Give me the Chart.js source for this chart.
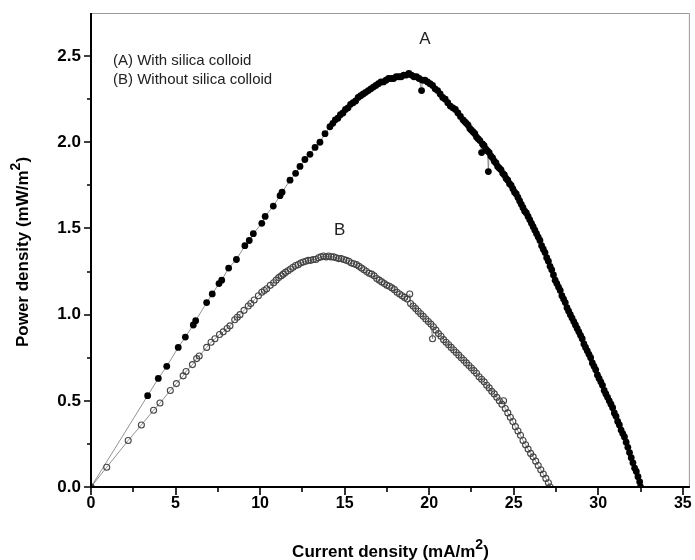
<!DOCTYPE html>
<html>
<head>
<meta charset="utf-8">
<script src="https://cdn.jsdelivr.net/npm/chart.js@4.4.1/dist/chart.umd.min.js"></script>
<style>
  html, body { margin: 0; padding: 0; background: #fff; }
  #wrap { width: 695px; height: 560px; }
</style>
</head>
<body>
<div id="wrap"><canvas id="chart" width="695" height="560"></canvas></div>
<script>
// Power density vs current density, with / without silica colloid

// (A) With silica colloid
const A_X = [0, 3.35, 3.98, 4.48, 5.16, 5.58, 6.05, 6.19, 6.84, 7.17, 7.57, 7.73, 8.14, 8.6, 9.1, 9.36, 9.6,
  10.1, 10.3, 10.78, 11.18, 11.3, 11.77, 12.1, 12.36, 12.65, 12.95, 13.25, 13.54, 13.84, 14.13, 14.3, 14.45,
  14.6, 14.75, 14.9, 15.05, 15.2, 15.35, 15.5, 15.65, 15.8, 15.95, 16.1, 16.25, 16.4, 16.55, 16.7, 16.85,
  17.0, 17.15, 17.3, 17.45, 17.6, 17.75, 17.9, 18.05, 18.2, 18.35, 18.5, 18.65, 18.8, 18.95, 19.1, 19.25,
  19.4, 19.55, 19.6, 19.75, 19.9, 20.05, 20.2, 20.35, 20.5, 20.65, 20.8, 20.95, 21.1, 21.25, 21.4, 21.55,
  21.7, 21.85, 22.0, 22.1, 22.2, 22.3, 22.4, 22.5, 22.6, 22.7, 22.8, 22.9, 23.0, 23.1, 23.15, 23.25, 23.35,
  23.45, 23.5, 23.55, 23.65, 23.75, 23.85, 23.95, 24.05, 24.15, 24.25, 24.35, 24.45, 24.55, 24.65, 24.75,
  24.85, 24.95, 25.05, 25.15, 25.25, 25.35, 25.45, 25.55, 25.65, 25.75, 25.85, 25.95, 26.05, 26.15, 26.25,
  26.35, 26.45, 26.55, 26.65, 26.75, 26.85, 26.95, 27.05, 27.15, 27.25, 27.35, 27.45, 27.55, 27.65, 27.75,
  27.85, 27.95, 28.05, 28.15, 28.25, 28.35, 28.45, 28.55, 28.65, 28.75, 28.85, 28.95, 29.05, 29.15, 29.25,
  29.35, 29.45, 29.55, 29.65, 29.75, 29.85, 29.95, 30.05, 30.15, 30.25, 30.35, 30.45, 30.55, 30.65, 30.75,
  30.85, 30.95, 31.05, 31.15, 31.25, 31.35, 31.45, 31.55, 31.65, 31.75, 31.85, 31.95, 32.05, 32.15, 32.25,
  32.35, 32.45, 32.5];
const A_Y = [0, 0.53, 0.63, 0.70, 0.81, 0.87, 0.94, 0.965, 1.07, 1.12, 1.18, 1.20, 1.27, 1.32, 1.40, 1.43, 1.47,
  1.53, 1.57, 1.63, 1.69, 1.71, 1.78, 1.82, 1.86, 1.90, 1.93, 1.97, 2.00, 2.05, 2.09, 2.11, 2.13,
  2.14, 2.16, 2.17, 2.19, 2.20, 2.22, 2.23, 2.24, 2.26, 2.27, 2.28, 2.29, 2.30, 2.31, 2.32, 2.33,
  2.34, 2.35, 2.35, 2.36, 2.37, 2.37, 2.37, 2.38, 2.38, 2.38, 2.39, 2.39, 2.40, 2.39, 2.38, 2.38,
  2.37, 2.30, 2.36, 2.36, 2.35, 2.34, 2.33, 2.31, 2.30, 2.28, 2.26, 2.25, 2.23, 2.21, 2.20, 2.19,
  2.17, 2.15, 2.13, 2.12, 2.11, 2.10, 2.08, 2.07, 2.06, 2.05, 2.03, 2.02, 2.01, 1.94, 1.99, 1.98, 1.96,
  1.95, 1.83, 1.94, 1.92, 1.91, 1.89, 1.88, 1.86, 1.85, 1.84, 1.82, 1.81, 1.79, 1.78, 1.76,
  1.75, 1.73, 1.71, 1.70, 1.68, 1.66, 1.64, 1.62, 1.60, 1.59, 1.57, 1.55, 1.53, 1.51, 1.49,
  1.47, 1.45, 1.43, 1.40, 1.38, 1.36, 1.33, 1.31, 1.28, 1.26, 1.23, 1.20, 1.18, 1.16, 1.14,
  1.11, 1.09, 1.07, 1.04, 1.02, 1.00, 0.98, 0.96, 0.94, 0.92, 0.90, 0.88, 0.86, 0.83, 0.81,
  0.79, 0.77, 0.75, 0.72, 0.70, 0.68, 0.65, 0.63, 0.61, 0.59, 0.56, 0.54, 0.52, 0.50, 0.48,
  0.46, 0.43, 0.41, 0.38, 0.36, 0.33, 0.31, 0.29, 0.26, 0.23, 0.20, 0.17, 0.14, 0.11, 0.09,
  0.06, 0.03, 0.0];

// (B) Without silica colloid
const B_X = [0, 0.93, 2.2, 2.98, 3.7, 4.08, 4.69, 5.05, 5.45, 5.62, 6.0, 6.25, 6.4, 6.84, 7.1, 7.33, 7.6,
  7.82, 8.05, 8.22, 8.5, 8.65, 8.81, 9.05, 9.3, 9.45, 9.65, 9.9, 10.1, 10.25, 10.39, 10.6, 10.8, 10.95,
  11.1, 11.25, 11.37, 11.5, 11.65, 11.8, 11.95, 12.1, 12.25, 12.4, 12.55, 12.7, 12.85, 13.0, 13.15, 13.3,
  13.45, 13.6, 13.75, 13.9, 14.05, 14.2, 14.35, 14.5, 14.65, 14.8, 14.95, 15.1, 15.25, 15.4, 15.55, 15.7,
  15.85, 16.0, 16.15, 16.3, 16.45, 16.6, 16.75, 16.9, 17.05, 17.2, 17.35, 17.5, 17.65, 17.8, 17.95, 18.1,
  18.25, 18.4, 18.55, 18.7, 18.85, 18.9, 19.05, 19.2, 19.35, 19.5, 19.65, 19.8, 19.95, 20.1, 20.2, 20.25,
  20.4, 20.55, 20.7, 20.85, 21.0, 21.15, 21.3, 21.45, 21.6, 21.75, 21.9, 22.05, 22.2, 22.35, 22.5, 22.65,
  22.8, 22.95, 23.1, 23.25, 23.4, 23.55, 23.7, 23.85, 24.0, 24.15, 24.3, 24.4, 24.5, 24.65, 24.8, 24.95,
  25.1, 25.25, 25.4, 25.55, 25.7, 25.85, 26.0, 26.15, 26.3, 26.45, 26.6, 26.75, 26.9, 27.05, 27.15];
const B_Y = [0, 0.115, 0.27, 0.36, 0.445, 0.487, 0.56, 0.60, 0.645, 0.67, 0.71, 0.745, 0.76, 0.81, 0.84, 0.86, 0.885,
  0.90, 0.92, 0.935, 0.97, 0.985, 1.00, 1.025, 1.05, 1.065, 1.085, 1.11, 1.13, 1.14, 1.15, 1.17, 1.185, 1.20,
  1.215, 1.225, 1.235, 1.245, 1.255, 1.265, 1.275, 1.285, 1.29, 1.30, 1.305, 1.31, 1.315, 1.315, 1.32, 1.32,
  1.33, 1.335, 1.34, 1.335, 1.34, 1.335, 1.335, 1.33, 1.325, 1.325, 1.32, 1.315, 1.31, 1.30, 1.295, 1.29,
  1.28, 1.27, 1.26, 1.25, 1.24, 1.235, 1.225, 1.21, 1.20, 1.19, 1.18, 1.17, 1.165, 1.155, 1.145, 1.13,
  1.12, 1.11, 1.10, 1.09, 1.12, 1.065, 1.05, 1.035, 1.02, 1.005, 0.99, 0.975, 0.96, 0.945, 0.86, 0.93,
  0.91, 0.89, 0.875, 0.855, 0.84, 0.825, 0.81, 0.795, 0.78, 0.765, 0.75, 0.735, 0.72, 0.705, 0.69, 0.675,
  0.66, 0.64, 0.625, 0.61, 0.59, 0.575, 0.555, 0.54, 0.52, 0.50, 0.48, 0.50, 0.455, 0.43, 0.405, 0.38,
  0.35, 0.325, 0.30, 0.27, 0.245, 0.22, 0.195, 0.175, 0.15, 0.125, 0.10, 0.075, 0.05, 0.025, 0.0];

const X_TICKS = [0, 5, 10, 15, 20, 25, 30, 35];
const X_MINOR = [2.5, 7.5, 12.5, 17.5, 22.5, 27.5, 32.5];
const Y_TICKS = [0, 0.5, 1.0, 1.5, 2.0, 2.5];
const Y_MINOR = [0.25, 0.75, 1.25, 1.75, 2.25];

const LEGEND_LINES = ['(A) With silica colloid', '(B) Without silica colloid'];
const CURVE_LABELS = [{ text: 'A', x: 19.75, y: 2.6 }, { text: 'B', x: 14.7, y: 1.49 }];

const FONT = 'Arial, "Liberation Sans", sans-serif';

const toPoints = (xs, ys) => xs.map((x, i) => ({ x, y: ys[i] }));

// superscript-aware title drawing ("...(mA/m" + "2" + ")")
function drawTitle(ctx, main, sup, tail) {
  const big = 'bold 17px ' + FONT;
  const small = 'bold 14px ' + FONT;
  ctx.font = big;
  const w1 = ctx.measureText(main).width;
  const w3 = ctx.measureText(tail).width;
  ctx.font = small;
  const w2 = ctx.measureText(sup).width;
  let x = -(w1 + w2 + w3) / 2;
  ctx.textAlign = 'left';
  ctx.textBaseline = 'alphabetic';
  ctx.font = big;
  ctx.fillText(main, x, 0);
  x += w1;
  ctx.font = small;
  ctx.fillText(sup, x, -8);
  x += w2;
  ctx.font = big;
  ctx.fillText(tail, x, 0);
}

const framePlugin = {
  id: 'frame',
  afterDraw(chart) {
    const { ctx, chartArea: a, scales: { x, y } } = chart;
    ctx.save();

    // top + right border, thin gray
    ctx.strokeStyle = '#9a9a9a';
    ctx.lineWidth = 1;
    ctx.beginPath();
    ctx.moveTo(a.left, a.top + 0.5);
    ctx.lineTo(a.right - 0.5, a.top + 0.5);
    ctx.lineTo(a.right - 0.5, a.bottom);
    ctx.stroke();

    // left + bottom axes, black
    ctx.strokeStyle = '#000';
    ctx.lineWidth = 2;
    ctx.beginPath();
    ctx.moveTo(a.left, a.top);
    ctx.lineTo(a.left, a.bottom);
    ctx.lineTo(a.right, a.bottom);
    ctx.stroke();

    // ticks (outward)
    ctx.lineWidth = 1.6;
    ctx.beginPath();
    X_TICKS.forEach(v => { const px = Math.round(x.getPixelForValue(v)); ctx.moveTo(px, a.bottom); ctx.lineTo(px, a.bottom + 8); });
    X_MINOR.forEach(v => { const px = Math.round(x.getPixelForValue(v)); ctx.moveTo(px, a.bottom); ctx.lineTo(px, a.bottom + 5); });
    Y_TICKS.forEach(v => { const py = Math.round(y.getPixelForValue(v)); ctx.moveTo(a.left, py); ctx.lineTo(a.left - 7, py); });
    Y_MINOR.forEach(v => { const py = Math.round(y.getPixelForValue(v)); ctx.moveTo(a.left, py); ctx.lineTo(a.left - 4, py); });
    ctx.stroke();

    // axis titles
    ctx.fillStyle = '#000';
    ctx.save();
    ctx.translate((a.left + a.right) / 2, 557);
    drawTitle(ctx, 'Current density (mA/m', '2', ')');
    ctx.restore();

    ctx.save();
    ctx.translate(28, (a.top + a.bottom) / 2 + 2);
    ctx.rotate(-Math.PI / 2);
    drawTitle(ctx, 'Power density (mW/m', '2', ')');
    ctx.restore();

    // legend text
    ctx.fillStyle = '#222';
    ctx.font = '15px ' + FONT;
    ctx.textAlign = 'left';
    ctx.textBaseline = 'middle';
    LEGEND_LINES.forEach((t, i) => ctx.fillText(t, 113, 61 + i * 19));

    // curve labels
    ctx.font = '17px ' + FONT;
    ctx.textAlign = 'center';
    CURVE_LABELS.forEach(l => ctx.fillText(l.text, x.getPixelForValue(l.x), y.getPixelForValue(l.y)));

    ctx.restore();
  }
};

new Chart(document.getElementById('chart'), {
  type: 'scatter',
  data: {
    datasets: [
      {
        label: 'B',
        data: toPoints(B_X, B_Y),
        showLine: true,
        borderColor: '#777',
        borderWidth: 0.8,
        pointRadius: 3,
        pointBackgroundColor: 'rgba(255,255,255,0)',
        pointBorderColor: '#444',
        pointBorderWidth: 1.1,
      },
      {
        label: 'A',
        data: toPoints(A_X, A_Y),
        showLine: true,
        borderColor: '#777',
        borderWidth: 0.8,
        pointRadius: 3.4,
        pointBackgroundColor: '#000',
        pointBorderColor: '#000',
        pointBorderWidth: 0,
      }
    ]
  },
  options: {
    responsive: false,
    animation: false,
    devicePixelRatio: 1,
    layout: { padding: { top: 13, right: 5, left: 0, bottom: 0 } },
    plugins: { legend: { display: false }, tooltip: { enabled: false } },
    scales: {
      x: {
        type: 'linear',
        min: 0,
        max: 35.42,
        grid: { display: false, drawTicks: false },
        border: { display: false },
        afterBuildTicks: s => { s.ticks = X_TICKS.map(v => ({ value: v })); },
        afterFit: s => { s.height = 73; s.paddingLeft = 0; s.paddingRight = 0; },
        ticks: {
          color: '#000',
          padding: 7,
          maxRotation: 0,
          font: { family: FONT, size: 16, weight: 'bold' },
          callback: v => String(v)
        }
      },
      y: {
        type: 'linear',
        min: 0,
        max: 2.75,
        grid: { display: false, drawTicks: false },
        border: { display: false },
        afterBuildTicks: s => { s.ticks = Y_TICKS.map(v => ({ value: v })); },
        afterFit: s => { s.width = 91; s.paddingTop = 0; s.paddingBottom = 0; },
        ticks: {
          color: '#000',
          padding: 10,
          font: { family: FONT, size: 17, weight: 'bold' },
          callback: v => v.toFixed(1)
        }
      }
    }
  },
  plugins: [framePlugin]
});
</script>
</body>
</html>
